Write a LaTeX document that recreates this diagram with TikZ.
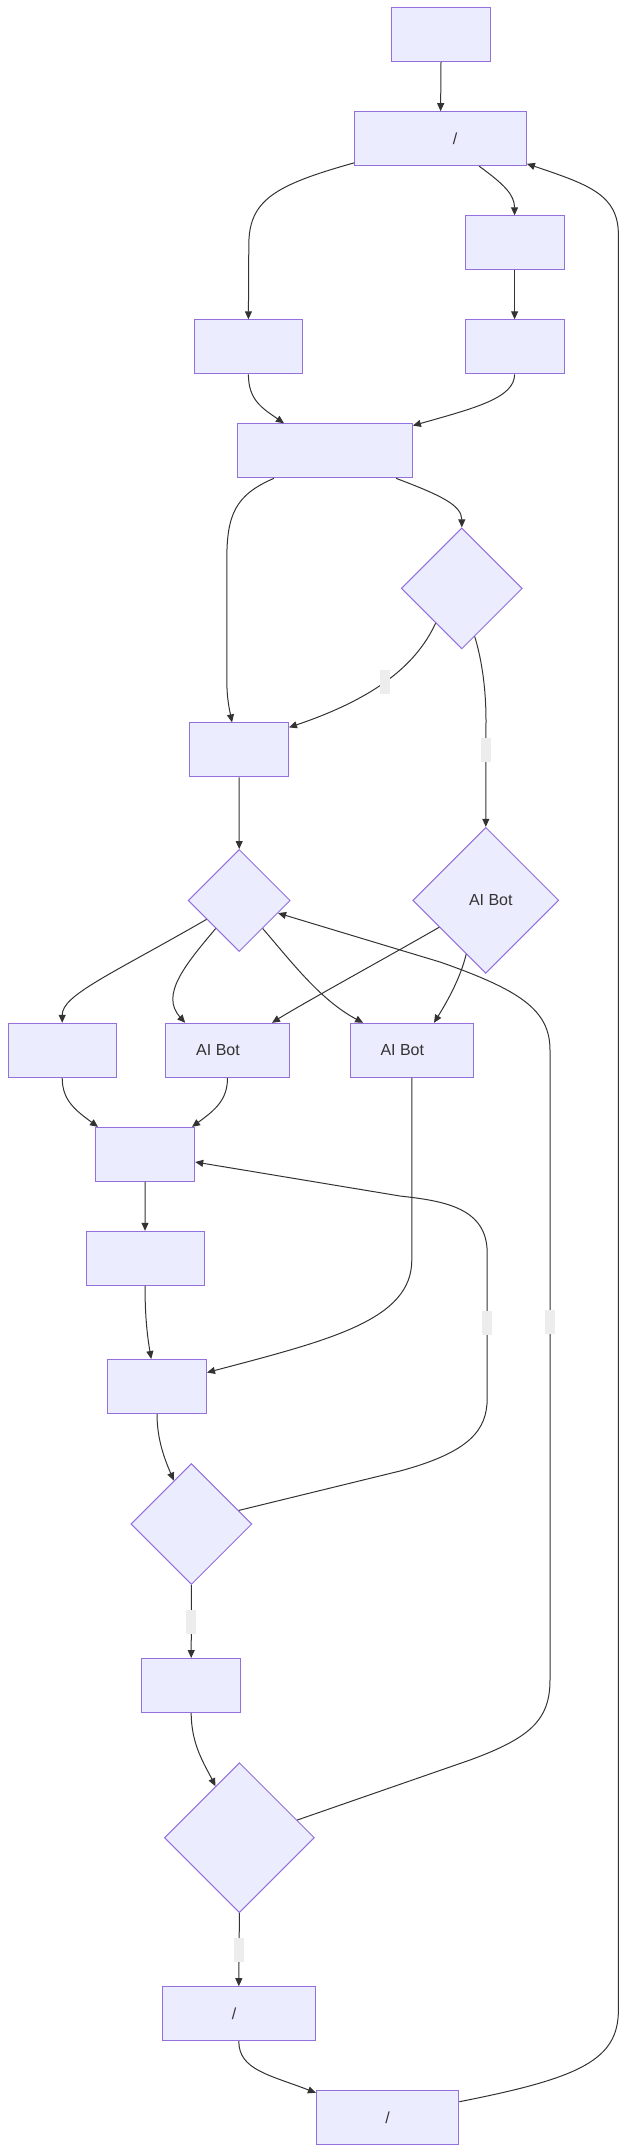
\documentclass[tikz,border=0pt]{standalone}
\usepackage{fontspec}
\setmainfont{Liberation Sans}
\usetikzlibrary{arrows.meta,shapes.geometric}
\definecolor{nodefill}{HTML}{ECECFF}
\definecolor{nodeborder}{HTML}{9370DB}
\definecolor{edgecol}{HTML}{333333}
\definecolor{txtcol}{HTML}{333333}
\definecolor{lblfill}{HTML}{EDEDED}
\tikzset{
  box/.style={draw=nodeborder, fill=nodefill, line width=1pt, minimum height=54pt, inner sep=0pt, text=txtcol, font=\fontsize{16}{19}\selectfont},
  dia/.style={diamond, aspect=1, draw=nodeborder, fill=nodefill, line width=1pt, inner sep=0pt, text=txtcol, font=\fontsize{16}{19}\selectfont},
  conn/.style={draw=edgecol, line width=1pt, -{Triangle[length=8pt,width=7pt]}},
  lbl/.style={fill=lblfill, minimum width=10pt, minimum height=24pt, inner sep=0pt, sloped=false}
}
\begin{document}
\begin{tikzpicture}[x=1pt,y=-1pt]
\useasboundingbox (0,0) rectangle (627,2153);
% nodes
\node[box, minimum width=99pt]   (n1) at (441,34.7) {};
\node[box, minimum width=171.6pt] (n2) at (440.6,138.7) {\hspace*{28.8pt}/};
\node[box, minimum width=99pt]   (n3) at (514.6,242.8) {};
\node[box, minimum width=108pt]  (n4) at (248.4,346.8) {};
\node[box, minimum width=99pt]   (n5) at (514.6,346.8) {};
\node[box, minimum width=175.2pt] (n6) at (324.8,450.8) {};
\node[dia, minimum width=121pt, minimum height=121pt] (d1) at (461.8,588.4) {};
\node[box, minimum width=99pt]   (n7) at (239,749.9) {};
\node[dia, minimum width=102pt, minimum height=102pt] (d2) at (239.2,900.5) {};
\node[dia, minimum width=146pt, minimum height=146pt] (d3) at (485.8,900.3) {\hspace*{10pt}AI Bot};
\node[box, minimum width=108.4pt] (n8) at (62.2,1050.3) {};
\node[box, minimum width=123.6pt] (n9) at (227.5,1050.3) {AI Bot\hspace*{19pt}};
\node[box, minimum width=123.6pt] (n10) at (411.8,1050.3) {AI Bot\hspace*{19pt}};
\node[box, minimum width=99pt]   (n11) at (145.2,1154.4) {};
\node[box, minimum width=118pt]  (n12) at (145,1258.3) {};
\node[box, minimum width=99pt]   (n13) at (157,1386.5) {};
\node[dia, minimum width=121pt, minimum height=121pt] (d4) at (191.4,1524) {};
\node[box, minimum width=99pt]   (n14) at (191.2,1685.5) {};
\node[dia, minimum width=150pt, minimum height=150pt] (d5) at (239.4,1837.7) {};
\node[box, minimum width=152.8pt] (n15) at (238.8,2013.7) {/\hspace*{9.6pt}};
\node[box, minimum width=142.4pt] (n16) at (387.6,2117.7) {/};
% edges
\draw[conn] (n1.south) -- (n2.north);
\draw[conn] ([yshift=3.4pt]n2.south west) .. controls (275,185) and (248.8,200) .. (248.8,245) -- (n4.north);
\draw[conn] ([xshift=38.6pt]n2.south) .. controls (505,185) and (514.4,195) .. (n3.north);
\draw[conn] (n3.south) -- (n5.north);
\draw[conn] (n4.south) .. controls (248.4,400) and (262,408) .. ([xshift=-40.8pt]n6.north);
\draw[conn] (n5.south) .. controls (514.6,398) and (475,408) .. ([yshift=-2.3pt]n6.north east);
\draw[conn] ([xshift=-50.8pt]n6.south) .. controls (235,495) and (226.8,515) .. (226.8,560) -- (226.8,680) .. controls (226.8,700) and (230,712) .. ([xshift=-7pt]n7.north);
\draw[conn] ([xshift=71.2pt]n6.south) .. controls (440,495) and (461.8,505) .. (d1.north);
\draw[conn] (d1.233) .. controls (415,668) and (370,700) .. ([yshift=-5pt]n7.north east) node[lbl, pos=0.5] (l1) {};
\draw[conn] (d1.285) .. controls (482,660) and (486,690) .. (486,720) -- (d3.north) node[lbl, pos=0.28] (l2) {};
\draw[conn] (n7.south) -- (d2.north);
\draw[conn] (d2.210.8) .. controls (110,975) and (62.2,995) .. (n8.north);
\draw[conn] (d2.230.3) .. controls (185,965) and (160,995) .. ([xshift=-42.3pt]n9.north);
\draw[conn] (d2.310.5) .. controls (290,960) and (320,1000) .. ([xshift=-48.6pt]n10.north);
\draw[conn] (d3.210) .. controls (400,950) and (300,1005) .. ([xshift=44.5pt]n9.north);
\draw[conn] (d3.250.3) .. controls (460,980) and (445,1005) .. ([xshift=22.2pt]n10.north);
\draw[conn] (n8.south) .. controls (62.2,1100) and (75,1110) .. ([xshift=-47.2pt]n11.north);
\draw[conn] (n9.south) .. controls (227.5,1100) and (215,1110) .. ([xshift=46.8pt]n11.north);
\draw[conn] (n10.south) -- (411.8,1260) .. controls (411.8,1320) and (330,1340) .. ([yshift=14pt]n13.east);
\draw[conn] (n11.south) -- (n12.north);
\draw[conn] (n12.south) .. controls (145,1320) and (148,1340) .. ([xshift=-5.8pt]n13.north);
\draw[conn] (n13.south) .. controls (157,1440) and (165,1460) .. (d4.112);
\draw[conn] (d4.16) -- (400,1471) .. controls (470,1452) and (487.2,1430) .. (487.2,1398) -- (487.2,1253) node[lbl, pos=0.52] (l3) {} .. controls (487.2,1208) and (445,1201) .. (400,1196) -- ([yshift=-7.6pt]n11.east);
\draw[conn] (d4.south) -- (n14.north) node[lbl, pos=0.5] (l5) {};
\draw[conn] (n14.south) .. controls (191.2,1745) and (205,1765) .. (d5.115.4);
\draw[conn] (d5.17.7) -- (470,1760) .. controls (530,1738) and (550,1720) .. (550,1680) -- (550,1050) node[lbl, pos=0.568] (l4) {} .. controls (550,1010) and (520,990) .. (440,962) -- (d2.342);
\draw[conn] (d5.south) -- (n15.north) node[lbl, pos=0.5] (l6) {};
\draw[conn] (n15.south) .. controls (238.8,2070) and (270,2075) .. ([yshift=-2.6pt]n16.north west);
\draw[conn] ([yshift=16pt]n16.east) .. controls (580,2078) and (618.4,2060) .. (618.4,2010) -- (618.4,235) .. controls (618.4,195) and (590,185) .. ([yshift=2.4pt]n2.south east);
\end{tikzpicture}
\end{document}
